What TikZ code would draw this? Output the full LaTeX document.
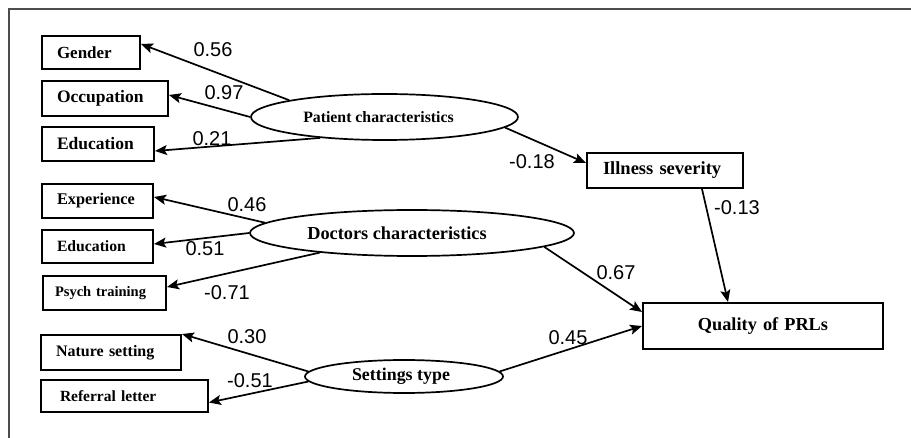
\documentclass[tikz,border=0pt]{standalone}
\usepackage{fontspec}
\setmainfont{Liberation Serif}
\newfontfamily\numfont{Liberation Sans}
\usetikzlibrary{shapes.geometric,arrows.meta}
\begin{document}
\begin{tikzpicture}[x=1pt,y=-1pt,
  fs/.style={font=\bfseries\fontsize{#1}{#1}\selectfont},
  box/.style={draw, line width=2pt, inner xsep=15pt, inner ysep=0pt, align=left},
  latent/.style={draw, ellipse, line width=1.7pt, inner sep=0pt},
  conn/.style={line width=1.7pt, -{Stealth[length=12pt,width=10pt,inset=2.5pt]}},
  coef/.style={font=\numfont\fontsize{20}{24}\selectfont, inner sep=0pt}
]
\useasboundingbox[fill=white] (0,0) rectangle (911,438);
\draw[line width=1.2pt, color=black!70] (9,438) -- (9,9) -- (911,9);

% observed variables
\node[box, fs=17,   text width=68pt,  minimum height=33pt] (gen)  at (91,52.5)   {Gender};
\node[box, fs=17.5, text width=96pt,  minimum height=35pt] (occ)  at (105,98.5)  {Occupation};
\node[box, fs=17.5, text width=82pt,  minimum height=34pt] (edu1) at (98,144)    {Education};
\node[box, fs=16.3, text width=81pt,  minimum height=34pt] (exp)  at (97.5,201)  {Experience};
\node[box, fs=15.7, text width=81pt,  minimum height=33pt] (edu2) at (97.5,246.5){Education};
\node[box, fs=14.5, minimum height=34pt, inner xsep=12pt, text width=99pt] (psy) at (104.5,293) {Psych training};
\node[box, fs=16,   text width=110pt, minimum height=35pt] (nat)  at (111,352.5) {Nature setting};
\node[box, fs=15.5, text width=129pt, minimum height=32pt, inner xsep=19pt] (ref) at (124.5,396) {Referral letter};
\node[box, fs=18.5, text width=124pt, minimum height=35pt, inner xsep=16pt] (ill) at (665,170.5) {Illness severity};
\node[box, fs=18.3, text width=210pt, minimum height=46pt, align=center] (qual) at (763,326) {Quality of PRLs};

% latent variables
\node[latent, fs=15.8, minimum width=267pt, minimum height=46pt] (pat) at (384.5,117) {\hspace*{-12pt}Patient characteristics};
\node[latent, fs=18.3, minimum width=324pt, minimum height=46pt] (doc) at (412,233) {\hspace*{-30pt}Doctors characteristics};
\node[latent, fs=17.9, minimum width=198pt, minimum height=33pt] (set) at (404,376.5) {\hspace*{-6pt}Settings type};

% connectors
\draw[conn] (pat.170.5) -- ([yshift=8.5pt]gen.east);
\draw[conn] (pat.180) -- ([yshift=3.5pt]occ.east);
\draw[conn] (pat.198) -- ([yshift=-7pt]edu1.east);
\draw[conn] (doc.176.2) -- ([yshift=4pt]exp.east);
\draw[conn] (doc.180) -- ([yshift=2.5pt]edu2.east);
\draw[conn] (doc.192) -- ([yshift=6pt]psy.east);
\draw[conn] (set.177) -- (nat.north east);
\draw[conn] (set.183) -- ([yshift=-6.5pt]ref.east);
\draw[conn] (pat.355) -- ([yshift=7.5pt]ill.west);
\draw[conn] ([xshift=37pt]ill.south) -- ([xshift=-35pt]qual.north);
\draw[conn] (doc.354.75) -- ([yshift=14pt]qual.west);
\draw[conn] (set.3) -- (qual.west);

% coefficients
\node[coef] (c1)  at (213,50)  {0.56};
\node[coef] (c2)  at (224,93)  {0.97};
\node[coef] (c3)  at (212,139) {0.21};
\node[coef] (c4)  at (247,205) {0.46};
\node[coef] (c5)  at (205,249) {0.51};
\node[coef] (c6)  at (227,293) {-0.71};
\node[coef] (c7)  at (247,337) {0.30};
\node[coef] (c8)  at (250,381) {-0.51};
\node[coef] (c9)  at (532,162) {-0.18};
\node[coef] (c10) at (737,208) {-0.13};
\node[coef] (c11) at (616,273) {0.67};
\node[coef] (c12) at (568,338) {0.45};
\end{tikzpicture}
\end{document}
